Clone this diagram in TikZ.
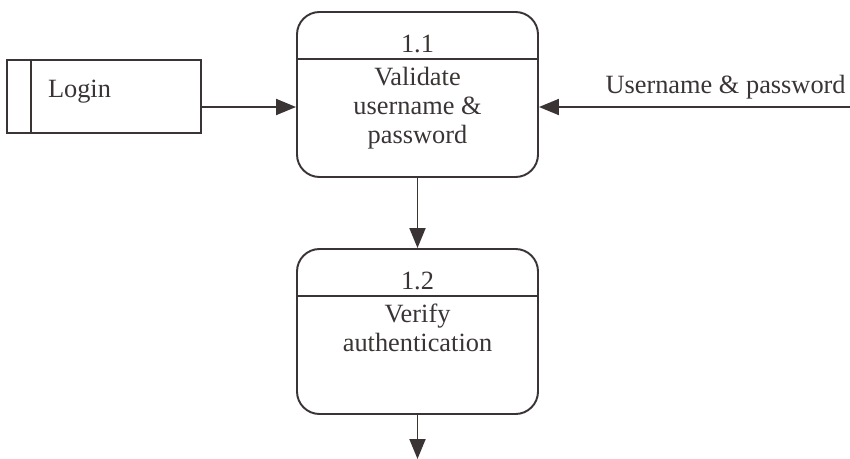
\documentclass[tikz,border=0pt]{standalone}
\usepackage{fontspec}
\setmainfont{Liberation Serif}
\usetikzlibrary{arrows.meta}
\definecolor{ink}{HTML}{3A3434}
\begin{document}
\begin{tikzpicture}[>={Triangle[length=.4cm,width=.32cm]}, line width=1.1pt, color=ink,
        font=\fontsize{15}{16.5}\selectfont,
        proc/.style={draw, rounded corners=.45cm, minimum width=4.82cm, minimum height=3.3cm},
        body/.style={anchor=north, align=center, inner sep=0pt},
        store/.style={draw, minimum width=3.88cm, minimum height=1.46cm}]
    \useasboundingbox (0,0) rectangle (17,-9.18);
    % processes
    \node[proc](p11) at (8.35,-1.89){};
    \node[proc](p12) at (8.35,-6.63){};
    \draw([yshift=-.96cm]p11.north west)--([yshift=-.96cm]p11.north east);
    \draw([yshift=-.96cm]p12.north west)--([yshift=-.96cm]p12.north east);
    \node[anchor=base, inner sep=0pt] at ([yshift=-.82cm]p11.north){1.1};
    \node[anchor=base, inner sep=0pt] at ([yshift=-.82cm]p12.north){1.2};
    \node[body] at ([yshift=-1.1cm]p11.north){Validate\\username \&\\password};
    \node[body] at ([yshift=-1.1cm]p12.north){Verify\\authentication};
    % data store
    \node[store](login) at (2.08,-1.93){};
    \draw([xshift=.5cm]login.north west)--([xshift=.5cm]login.south west);
    \node[anchor=base west, inner sep=0pt] at ([xshift=.82cm,yshift=-.03cm]login.west){Login};
    % flows
    \coordinate (a) at (0,-2.14);
    \coordinate (src) at (17,-2.14);
    \coordinate (out) at (8.35,-9.18);
    \draw[->](login.east |- a)--(p11.west |- a);
    \draw[->](src)--(p11.east |- src)node[pos=.4, anchor=base, yshift=.28cm]{Username \& password};
    \draw[->](p11)--(p12);
    \draw[->](p12)--(out);
\end{tikzpicture}
\end{document}
